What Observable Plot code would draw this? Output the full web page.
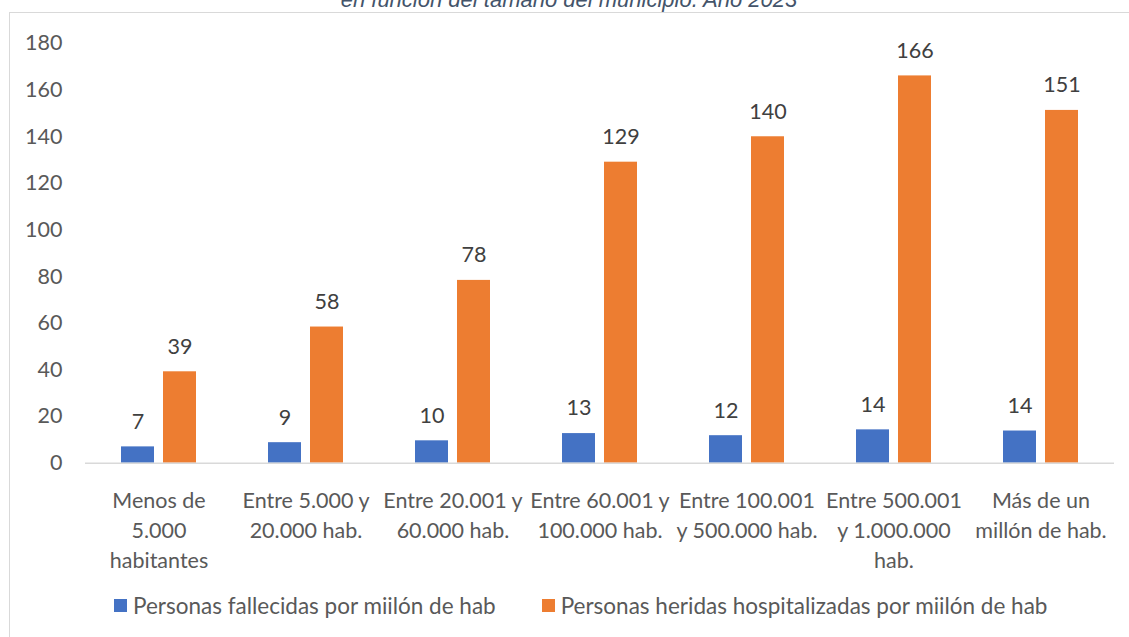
<!DOCTYPE html>
<html>
<head>
<meta charset="utf-8">
<script src="https://cdn.jsdelivr.net/npm/d3@7"></script>
<script src="https://cdn.jsdelivr.net/npm/@observablehq/plot@0.6"></script>
<style>
  html, body { margin: 0; padding: 0; background: #fff; }
  #wrap { position: relative; width: 1129px; height: 637px; overflow: hidden; background: #fff; }
  #frame { position: absolute; left: 9px; top: 12px; width: 1140px; height: 700px; border: 1.5px solid #d9d9d9; box-sizing: border-box; }
  #title { position: absolute; left: 9px; width: 1120px; top: -10.6px; line-height: 22px; text-align: center;
           font-family: "Liberation Sans", Arial, sans-serif; font-style: italic; font-size: 22px; color: #44546a; white-space: nowrap; }
  #chart { position: absolute; left: 0; top: 0; }
  #legend { position: absolute; left: 114px; top: 592px; display: flex; align-items: center;
            font-family: Lato, sans-serif; font-size: 22.5px; color: #595959; white-space: nowrap; }
  .item { display: flex; align-items: center; margin-right: 46px; }
  .sw { width: 13px; height: 13px; margin-right: 6px; }
</style>
</head>
<body>
<div id="wrap">
  <div id="frame"></div>
  <div id="title"></div>
  <div id="chart"></div>
  <div id="legend"></div>
</div>
<script>
const titleText = "en función del tamaño del municipio. Año 2023";
const categories = [
  "Menos de 5.000 habitantes",
  "Entre 5.000 y 20.000 hab.",
  "Entre 20.001 y 60.000 hab.",
  "Entre 60.001 y 100.000 hab.",
  "Entre 100.001 y 500.000 hab.",
  "Entre 500.001 y 1.000.000 hab.",
  "Más de un millón de hab."
];
const tickLabels = [
  "Menos de\n5.000\nhabitantes",
  "Entre 5.000 y\n20.000 hab.",
  "Entre 20.001 y\n60.000 hab.",
  "Entre 60.001 y\n100.000 hab.",
  "Entre 100.001\ny 500.000 hab.",
  "Entre 500.001\ny 1.000.000\nhab.",
  "Más de un\nmillón de hab."
];
const seriesNames = [
  "Personas fallecidas por miilón de hab",
  "Personas heridas hospitalizadas por miilón de hab"
];
const seriesColors = ["#4472c4", "#ed7d31"];
const fallecidas = [7.0, 8.8, 9.6, 12.7, 11.8, 14.3, 13.8];
const heridas = [39.2, 58.4, 78.4, 129.1, 140.0, 166.1, 151.3];
const yTicks = [0, 20, 40, 60, 80, 100, 120, 140, 160, 180];

const rowsF = categories.map((c, i) => ({cat: c, value: fallecidas[i]}));
const rowsH = categories.map((c, i) => ({cat: c, value: heridas[i]}));

document.getElementById("title").textContent = titleText;

const font = "Lato, sans-serif";
const fs = 21.5;
const chart = Plot.plot({
  width: 1129,
  height: 580,
  marginTop: 43,
  marginBottom: 117.3,
  marginLeft: 85,
  marginRight: 15,
  style: {fontFamily: font, background: "transparent", color: "#595959"},
  x: {domain: categories, paddingInner: 0.49, paddingOuter: 0.245, label: null},
  y: {domain: [0, 180], label: null},
  marks: [
    Plot.barY(rowsF, {x: "cat", y: "value", fill: seriesColors[0], insetRight: 42}),
    Plot.barY(rowsH, {x: "cat", y: "value", fill: seriesColors[1], insetLeft: 42}),
    Plot.ruleY([0], {stroke: "#d9d9d9", strokeWidth: 1.5}),
    Plot.text(rowsF, {x: "cat", y: "value", text: d => String(Math.round(d.value)), dx: -21, dy: -25, fontSize: fs, fill: "#404040"}),
    Plot.text(rowsH, {x: "cat", y: "value", text: d => String(Math.round(d.value)), dx: 21, dy: -25, fontSize: fs, fill: "#404040"}),
    Plot.axisY(yTicks, {tickSize: 0, tickPadding: 23, fontSize: fs, fill: "#595959", label: null}),
    Plot.axisX({tickSize: 0, tickPadding: 23.5, fontSize: fs, fill: "#595959", lineHeight: 30 / fs, label: null,
                tickFormat: d => tickLabels[categories.indexOf(d)]})
  ]
});
document.getElementById("chart").appendChild(chart);

const legend = document.getElementById("legend");
seriesNames.forEach((name, i) => {
  const item = document.createElement("div");
  item.className = "item";
  const sw = document.createElement("div");
  sw.className = "sw";
  sw.style.background = seriesColors[i];
  const lab = document.createElement("span");
  lab.textContent = name;
  item.appendChild(sw);
  item.appendChild(lab);
  legend.appendChild(item);
});
</script>
</body>
</html>
